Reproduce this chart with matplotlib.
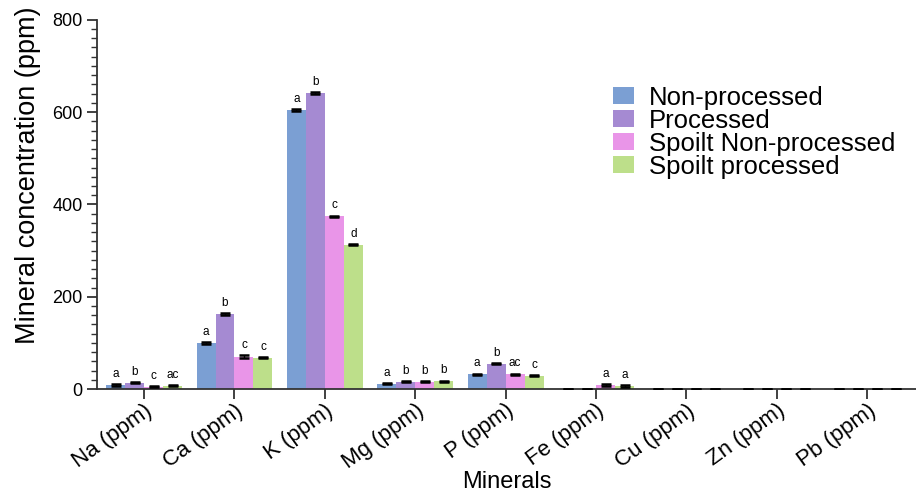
import numpy as np
import matplotlib.pyplot as plt
from matplotlib.ticker import MultipleLocator

plt.rcParams['font.family'] = ['Liberation Sans', 'DejaVu Sans']

minerals = ['Na (ppm)', 'Ca (ppm)', 'K (ppm)', 'Mg (ppm)', 'P (ppm)',
            'Fe (ppm)', 'Cu (ppm)', 'Zn (ppm)', 'Pb (ppm)']
series = ['Non-processed', 'Processed', 'Spoilt Non-processed', 'Spoilt processed']

non_processed = [9, 100, 605, 12, 32, 0.5, 0.3, 0.3, 0]
processed = [14, 162, 641, 16, 55, 1, 1, 1, 0]
spoilt_non_processed = [5, 70, 374, 16, 32, 9, 0.3, 0.3, 0]
spoilt_processed = [7, 68, 313, 17, 29, 7, 0.3, 0.3, 0]

err_np = [1.5, 1.5, 2, 1.5, 1.5, 0, 0, 0, 0]
err_p = [1.5, 2, 2, 1.5, 1.5, 0, 0, 0, 0]
err_snp = [1, 3, 2, 1.5, 1.5, 1.5, 0, 0, 0]
err_sp = [1, 1.5, 1.5, 1.5, 1.5, 1.5, 0, 0, 0]

letters_np = ['a', 'a', 'a', 'a', 'a', '', '', '', '']
letters_p = ['b', 'b', 'b', 'b', 'b', '', '', '', '']
letters_snp = ['c', 'c', 'c', 'b', 'ac', 'a', '', '', '']
letters_sp = ['ac', 'c', 'd', 'b', 'c', 'a', '', '', '']

colors = ['#7b9fd3', '#a58ad2', '#e995e8', '#bddf8a']

values = [non_processed, processed, spoilt_non_processed, spoilt_processed]
errors = [err_np, err_p, err_snp, err_sp]
letters = [letters_np, letters_p, letters_snp, letters_sp]

fig = plt.figure(figsize=(9.16, 4.95), dpi=100)
ax = fig.add_axes([0.106, 0.214, 0.894, 0.746])

x = np.arange(len(minerals))
w = 0.21
for i in range(4):
    pos = x + (i - 1.5) * w
    ax.bar(pos, values[i], width=w, color=colors[i], label=series[i], zorder=2)
    ax.errorbar(pos, values[i], yerr=errors[i], fmt='none', ecolor='black',
                elinewidth=1, capsize=3.4, capthick=1.8, zorder=3)
    for j in range(len(minerals)):
        if letters[i][j]:
            ax.annotate(letters[i][j], (pos[j], values[i][j] + errors[i][j]),
                        xytext=(0, 3), textcoords='offset points',
                        ha='center', va='bottom', fontsize=8.5)

ax.set_xlim(-0.52, 8.54)
ax.set_ylim(0, 800)
ax.yaxis.set_major_locator(MultipleLocator(200))
ax.yaxis.set_minor_locator(MultipleLocator(20))
ax.set_xticks(x)
ax.set_xticklabels(minerals, rotation=36, ha='right', va='top',
                   rotation_mode='anchor', fontsize=16)
ax.tick_params(axis='y', labelsize=13, length=7, width=1.3, color='#333333')
ax.tick_params(axis='y', which='minor', length=4, width=1, color='#333333')
ax.tick_params(axis='x', length=7, width=1.3, color='#333333', pad=1)

for s in ['top', 'right']:
    ax.spines[s].set_visible(False)
for s in ['left', 'bottom']:
    ax.spines[s].set_linewidth(1.3)
    ax.spines[s].set_color('#333333')

ax.set_ylabel('Mineral concentration (ppm)', fontsize=19.5)
ax.yaxis.set_label_coords(-0.068, 0.58)
ax.set_xlabel('Minerals', fontsize=17)
ax.xaxis.set_label_coords(0.5, -0.222)

ax.legend(loc='upper left', bbox_to_anchor=(0.655, 0.853), bbox_transform=fig.transFigure,
          frameon=False, fontsize=18.5, handlelength=0.83, handleheight=0.6,
          handletextpad=0.58, labelspacing=-0.04, borderpad=0)

fig.savefig('out.png', dpi=100)
